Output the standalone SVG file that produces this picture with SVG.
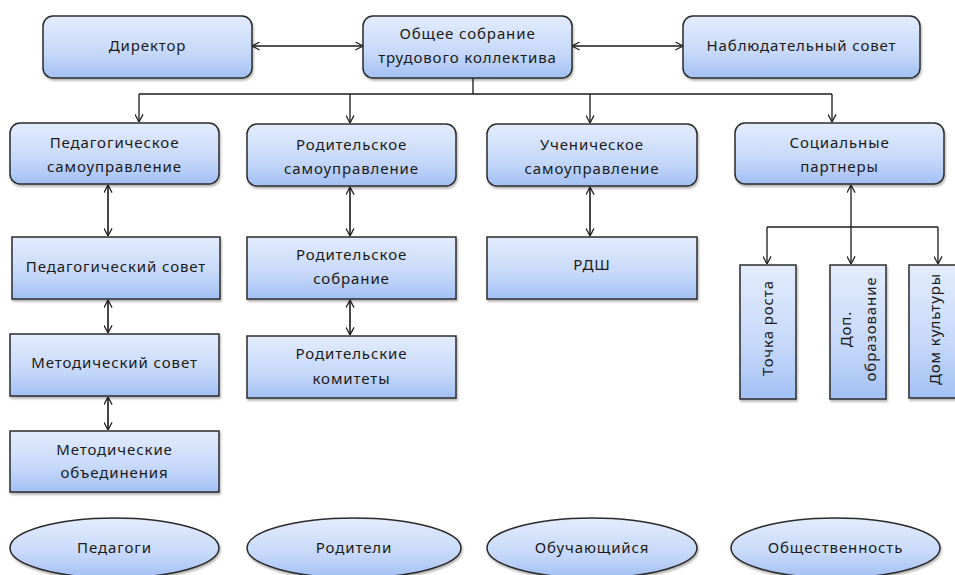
<svg xmlns="http://www.w3.org/2000/svg" width="955" height="575" viewBox="0 0 955 575">
<defs>
<linearGradient id="g" x1="0" y1="0" x2="0" y2="1">
<stop offset="0" stop-color="#e3ecfd"/>
<stop offset="0.6" stop-color="#c6d8f9"/>
<stop offset="1" stop-color="#a2c0f4"/>
</linearGradient>
<filter id="sh" x="-10%" y="-10%" width="120%" height="130%">
<feDropShadow dx="1" dy="2" stdDeviation="1.2" flood-color="#000" flood-opacity="0.3"/>
</filter>
<marker id="ah" viewBox="0 0 10 10" refX="9.5" refY="5" markerWidth="9" markerHeight="9" markerUnits="userSpaceOnUse" orient="auto-start-reverse">
<path d="M1,0.5 L9.5,5 L1,9.5" fill="none" stroke="#222" stroke-width="1.4"/>
</marker>
</defs>
<style>
.b{fill:url(#g);stroke:#2b2b2b;stroke-width:1.5;filter:url(#sh)}
.t{font-family:"Noto Sans","Open Sans","DejaVu Sans",sans-serif;font-size:15px;fill:#1a1a1a;text-anchor:middle;letter-spacing:0.9px}
.c{fill:none;stroke:#1a1a1a;stroke-width:1.3}
.d{fill:none;stroke:#333;stroke-width:1.8}
</style>
<rect width="955" height="575" fill="#fff"/>

<g id="connectors">
<line class="c" x1="252" y1="46" x2="363" y2="46" marker-start="url(#ah)" marker-end="url(#ah)"/>
<line class="c" x1="572" y1="46" x2="683" y2="46" marker-start="url(#ah)" marker-end="url(#ah)"/>
<path class="c" d="M473,78 V94"/>
<path class="c" d="M139,94 H832"/>
<line class="c" x1="139" y1="94" x2="139" y2="122" marker-end="url(#ah)"/>
<line class="c" x1="350" y1="94" x2="350" y2="123" marker-end="url(#ah)"/>
<line class="c" x1="590" y1="94" x2="590" y2="123" marker-end="url(#ah)"/>
<line class="c" x1="832" y1="94" x2="832" y2="122" marker-end="url(#ah)"/>
<line class="d" x1="108" y1="185" x2="108" y2="236" marker-start="url(#ah)" marker-end="url(#ah)"/>
<line class="d" x1="350" y1="187" x2="350" y2="236" marker-start="url(#ah)" marker-end="url(#ah)"/>
<line class="d" x1="590" y1="187" x2="590" y2="236" marker-start="url(#ah)" marker-end="url(#ah)"/>
<line class="d" x1="108" y1="300" x2="108" y2="333" marker-start="url(#ah)" marker-end="url(#ah)"/>
<line class="d" x1="350" y1="300" x2="350" y2="335" marker-start="url(#ah)" marker-end="url(#ah)"/>
<line class="d" x1="108" y1="397" x2="108" y2="430" marker-start="url(#ah)" marker-end="url(#ah)"/>
<line class="c" x1="851" y1="185" x2="851" y2="264" marker-start="url(#ah)" marker-end="url(#ah)"/>
<path class="c" d="M767,227 H938"/>
<line class="c" x1="767" y1="227" x2="767" y2="264" marker-end="url(#ah)"/>
<line class="c" x1="938" y1="227" x2="938" y2="264" marker-end="url(#ah)"/>
</g>

<g id="director">
<rect class="b" x="43" y="16" width="209" height="62" rx="10"/>
<text class="t" x="147.5" y="51">Директор</text>
</g>
<g id="general-meeting">
<rect class="b" x="363" y="16" width="209" height="62" rx="10"/>
<text class="t" x="467.5" y="39">Общее собрание</text>
<text class="t" x="467.5" y="63">трудового коллектива</text>
</g>
<g id="supervisory-board">
<rect class="b" x="683" y="16" width="237" height="62" rx="10"/>
<text class="t" x="801.5" y="51">Наблюдательный совет</text>
</g>

<g id="ped-self">
<rect class="b" x="10" y="123" width="209" height="61" rx="10"/>
<text class="t" x="114.5" y="148">Педагогическое</text>
<text class="t" x="114.5" y="172">самоуправление</text>
</g>
<g id="par-self">
<rect class="b" x="247" y="124" width="209" height="62" rx="10"/>
<text class="t" x="351.5" y="150">Родительское</text>
<text class="t" x="351.5" y="174">самоуправление</text>
</g>
<g id="stud-self">
<rect class="b" x="487" y="124" width="210" height="62" rx="10"/>
<text class="t" x="592" y="150">Ученическое</text>
<text class="t" x="592" y="174">самоуправление</text>
</g>
<g id="social-partners">
<rect class="b" x="735" y="123" width="209" height="61" rx="10"/>
<text class="t" x="839.5" y="148">Социальные</text>
<text class="t" x="839.5" y="172">партнеры</text>
</g>

<g id="ped-council">
<rect class="b" x="12" y="237" width="208" height="62"/>
<text class="t" x="116" y="272">Педагогический совет</text>
</g>
<g id="par-meeting">
<rect class="b" x="247" y="237" width="209" height="62"/>
<text class="t" x="351.5" y="260">Родительское</text>
<text class="t" x="351.5" y="284">собрание</text>
</g>
<g id="rdsh">
<rect class="b" x="487" y="237" width="210" height="62"/>
<text class="t" x="592" y="270">РДШ</text>
</g>

<g id="method-council">
<rect class="b" x="10" y="334" width="209" height="62"/>
<text class="t" x="114.5" y="368">Методический совет</text>
</g>
<g id="par-committees">
<rect class="b" x="247" y="336" width="209" height="62"/>
<text class="t" x="351.5" y="359">Родительские</text>
<text class="t" x="351.5" y="384">комитеты</text>
</g>
<g id="method-assoc">
<rect class="b" x="10" y="431" width="209" height="61"/>
<text class="t" x="114.5" y="455">Методические</text>
<text class="t" x="114.5" y="478">объединения</text>
</g>

<g id="growth-point">
<rect class="b" x="740" y="265" width="56" height="134"/>
<text class="t" transform="translate(773,328) rotate(-90)">Точка роста</text>
</g>
<g id="add-education">
<rect class="b" x="830" y="265" width="56" height="134"/>
<text class="t" transform="translate(851,329) rotate(-90)">Доп.</text>
<text class="t" transform="translate(876,329) rotate(-90)">образование</text>
</g>
<g id="culture-house">
<rect class="b" x="909" y="265" width="56" height="133"/>
<text class="t" transform="translate(940,329) rotate(-90)">Дом культуры</text>
</g>

<g id="teachers">
<ellipse class="b" cx="114.5" cy="548" rx="104.5" ry="30"/>
<text class="t" x="114.5" y="553">Педагоги</text>
</g>
<g id="parents">
<ellipse class="b" cx="354" cy="548" rx="107" ry="30"/>
<text class="t" x="354" y="553">Родители</text>
</g>
<g id="students">
<ellipse class="b" cx="592" cy="548" rx="105" ry="30"/>
<text class="t" x="592" y="553">Обучающийся</text>
</g>
<g id="public">
<ellipse class="b" cx="835.5" cy="548" rx="104.5" ry="30"/>
<text class="t" x="835.5" y="553">Общественность</text>
</g>
</svg>
